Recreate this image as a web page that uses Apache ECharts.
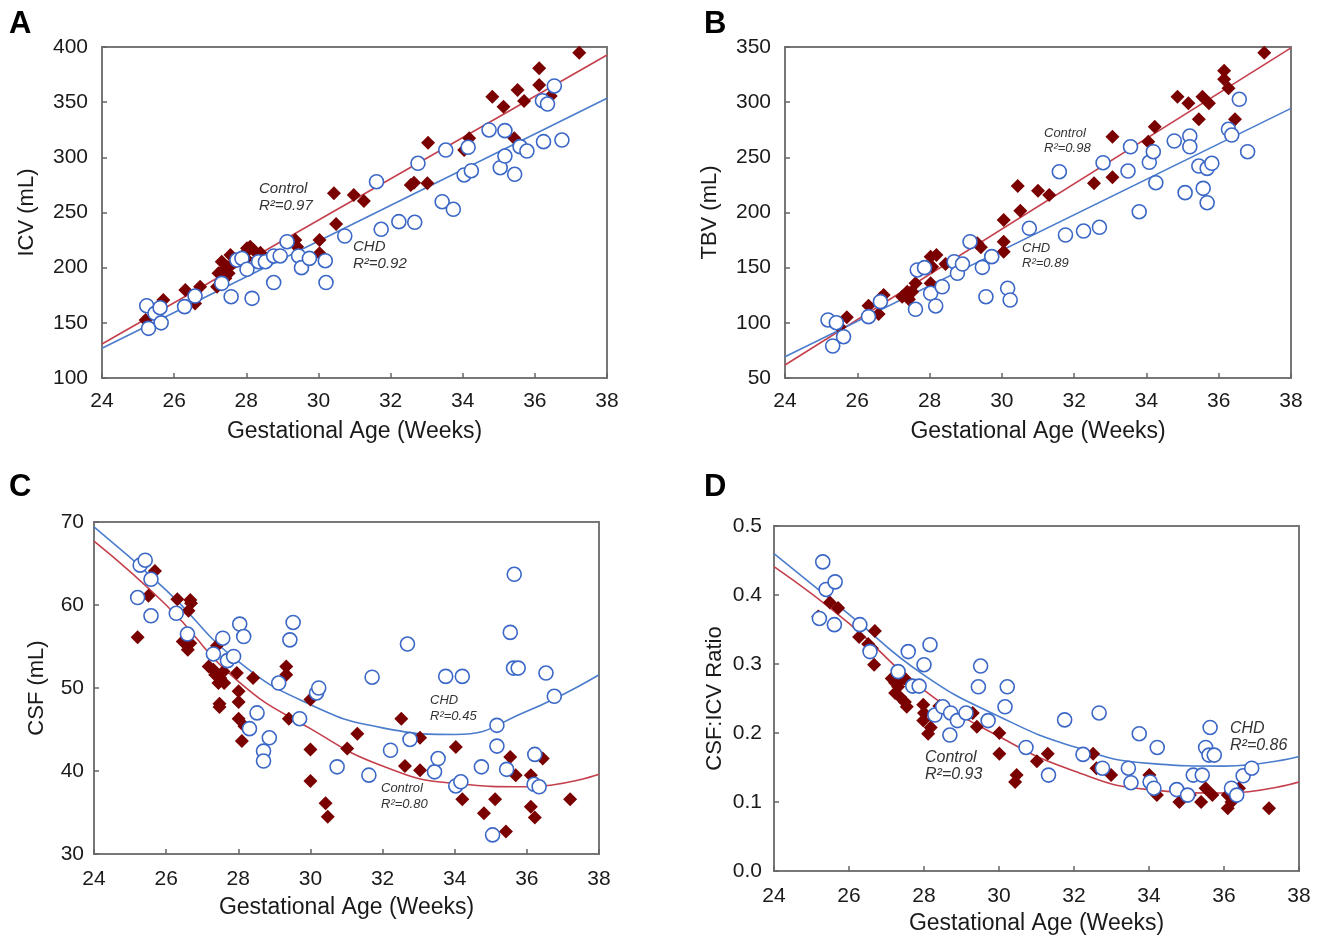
<!DOCTYPE html>
<html><head><meta charset="utf-8">
<script src="https://cdn.jsdelivr.net/npm/echarts@6/dist/echarts.min.js"></script>
<style>html,body{margin:0;padding:0;background:#fff}#c{width:1326px;height:939px}</style>
</head><body><div id="c"></div>
<script>
// ---------- DATA ----------
const weekTicks = [24, 26, 28, 30, 32, 34, 36, 38];

// Panel A: ICV (mL)
const icvCHD = [[25.24,165.5],[25.29,145],[25.47,158.6],[25.61,163.7],[25.64,150],[26.29,164.7],[26.58,174.3],[27.32,185.8],[27.58,173.7],[27.74,206.9],[27.88,208.4],[28.02,198.5],[28.16,172.2],[28.34,205.4],[28.53,205.4],[28.76,210.6],[28.76,186.5],[28.94,210.6],[29.13,223.5],[29.45,210.6],[29.53,200],[29.75,208.4],[30.19,206.3],[30.21,186.5],[30.73,228.7],[31.61,277.9],[31.74,234.8],[32.23,241.7],[32.67,241.1],[32.76,294.6],[33.43,259.8],[33.53,306.6],[33.74,252.9],[34.04,284],[34.15,309.1],[34.24,287.9],[34.73,324.8],[35.04,290.6],[35.17,324.2],[35.17,301.2],[35.44,284.6],[35.59,309.7],[35.78,305.7],[36.24,314.2],[36.21,351.3],[36.35,348.3],[36.54,364.7],[36.75,315.7]];
const icvControl = [[25.21,152.6],[25.7,170.7],[26.31,179.7],[26.58,167.6],[26.72,182.8],[27.19,182.8],[27.23,194.9],[27.32,205.4],[27.37,197.9],[27.46,200.9],[27.56,211.5],[27.51,194.9],[27.42,190.4],[27.6,203],[27.3,188],[28.02,217.5],[28.11,219],[27.97,213],[28.2,216],[28.39,213.5],[28.0,208],[29.36,225],[29.41,219],[30.03,225],[30.03,213],[30.43,267.4],[30.49,239.6],[30.98,265.9],[31.26,260.4],[32.56,274.9],[32.65,277],[33.02,276.5],[33.04,313.3],[34.04,306.6],[34.18,317.2],[34.82,355],[35.13,345.9],[35.43,317.2],[35.52,361],[35.7,351],[36.12,380.7],[36.12,365.6],[36.44,355.6],[37.23,394.8]];
const icvFitControl = [[24,130.8],[38,392.7]];
const icvFitCHD = [[24,127],[38,353.5]];

// Panel B: TBV (mL)
const tbvCHD = [[25.19,102.6],[25.32,79],[25.42,100.1],[25.62,87.4],[26.31,105.6],[26.64,119.2],[27.61,112.3],[27.66,147.9],[27.86,150],[28.03,126.8],[28.17,115.3],[28.35,132.7],[28.68,155.4],[28.77,144.9],[28.91,153.3],[29.12,173.5],[29.46,150.3],[29.56,123.7],[29.72,160],[30.16,131.3],[30.23,120.7],[30.76,185.7],[31.59,237],[31.76,179.6],[32.26,183.2],[32.7,186.6],[32.8,245.1],[33.49,237.6],[33.56,259.6],[33.8,200.7],[34.08,245.5],[34.19,255.1],[34.26,227],[34.77,264.8],[35.07,218],[35.2,269.3],[35.2,259.6],[35.45,242.1],[35.57,221.9],[35.68,240],[35.68,208.9],[35.81,244.6],[36.27,275.4],[36.36,270.2],[36.57,302.6],[36.8,255.1]];
const tbvControl = [[25.51,96.5],[25.71,105],[26.31,115.5],[26.59,108],[26.64,122.2],[26.73,125.2],[27.24,123.7],[27.33,125.2],[27.43,121.3],[27.52,128.2],[27.61,135.8],[27.38,128.2],[28.03,160],[28.07,150.9],[28.19,161.5],[28.03,135.8],[28.44,153.3],[29.32,172.1],[29.42,168.5],[30.05,193.2],[30.05,173.5],[30.05,164.5],[30.44,224],[30.51,201.6],[31,219.8],[31.31,215.9],[32.55,226.5],[33.06,268.7],[33.06,231.9],[34.05,264.2],[34.23,277.8],[34.86,305],[35.16,299],[35.45,284.5],[35.55,305],[35.73,299],[36.15,328.5],[36.15,320.7],[36.27,312.6],[36.45,284.5],[37.26,344.8]];
const tbvFitControl = [[24,61.8],[38,349.2]];
const tbvFitCHD = [[24,69.3],[38,294.4]];

// Panel C: CSF (mL)
const csfCHD = [[25.21,60.9],[25.28,64.8],[25.42,65.4],[25.58,63.1],[25.58,58.7],[26.28,59],[26.59,56.5],[27.31,54.1],[27.57,56],[27.7,53.3],[27.87,53.8],[28.04,57.7],[28.15,56.2],[28.52,47],[28.31,45.1],[28.86,44],[28.7,42.4],[28.7,41.2],[29.12,50.6],[29.43,55.8],[29.52,57.9],[29.7,46.3],[30.17,49.4],[30.23,50],[30.74,40.5],[31.71,51.3],[31.62,39.5],[32.22,42.5],[32.69,55.3],[32.76,43.8],[33.44,39.9],[33.54,41.5],[33.75,51.4],[34.03,38.2],[34.17,38.7],[34.21,51.4],[34.74,40.5],[35.05,32.3],[35.17,45.5],[35.17,43],[35.44,40.2],[35.54,56.7],[35.65,63.7],[35.63,52.4],[35.76,52.4],[36.22,42],[36.2,38.4],[36.34,38.1],[36.53,51.8],[36.76,49]];
const csfControl = [[25.21,56.1],[25.51,61.1],[25.69,64.1],[26.31,60.7],[26.62,59.3],[26.67,60.6],[26.69,60.2],[26.46,55.6],[26.6,54.6],[26.67,55.4],[27.18,52.6],[27.31,52.2],[27.41,55.1],[27.36,51.6],[27.5,51.2],[27.59,52],[27.45,50.6],[27.61,50.6],[27.48,48.1],[27.48,47.7],[28.01,49.6],[28.01,48.3],[27.96,51.8],[28.01,46.3],[28.17,45.4],[28.1,43.6],[28.41,51.2],[29.33,52.6],[29.33,51.6],[29.4,46.3],[30,48.6],[30,42.6],[30,38.8],[30.42,36.1],[30.48,34.5],[31.02,42.7],[31.3,44.5],[32.52,46.3],[32.62,40.6],[33.04,44],[33.04,40.1],[34.03,42.9],[34.21,36.6],[34.81,34.9],[35.12,36.6],[35.42,32.7],[35.54,41.7],[35.69,39.5],[36.11,39.5],[36.11,35.7],[36.22,34.4],[36.44,41.5],[37.2,36.6]];
const csfFitCHD = [[24,69.4],[26,61.8],[28,53.2],[30,48],[32,45.2],[34,44.4],[36,47.2],[38,51.6]];
const csfFitControl = [[24,67.7],[26,60],[28,50.8],[30,45.1],[32,40.6],[34,38.5],[36,38.1],[38,39.6]];

// Panel D: CSF:ICV ratio
const ratioCHD = [[25.3,0.448],[25.39,0.408],[25.63,0.419],[25.21,0.366],[25.61,0.357],[26.29,0.357],[26.56,0.318],[27.31,0.289],[27.58,0.318],[27.7,0.268],[27.87,0.268],[28,0.299],[28.16,0.328],[28.29,0.226],[28.5,0.238],[28.71,0.229],[28.89,0.218],[28.69,0.197],[29.12,0.229],[29.45,0.267],[29.51,0.297],[29.71,0.218],[30.16,0.238],[30.22,0.267],[30.72,0.179],[31.32,0.139],[31.75,0.219],[32.24,0.169],[32.67,0.229],[32.76,0.149],[33.45,0.149],[33.52,0.128],[33.74,0.199],[34.03,0.129],[34.13,0.12],[34.22,0.179],[34.74,0.118],[35.03,0.11],[35.18,0.139],[35.42,0.139],[35.51,0.179],[35.63,0.208],[35.6,0.168],[35.74,0.168],[36.2,0.12],[36.34,0.11],[36.51,0.138],[36.74,0.149]];
const ratioControl = [[25.18,0.369],[25.49,0.389],[25.71,0.381],[26.27,0.339],[26.51,0.329],[26.69,0.348],[26.67,0.299],[26.61,0.323],[27.14,0.279],[27.23,0.273],[27.31,0.267],[27.4,0.277],[27.49,0.279],[27.23,0.258],[27.36,0.252],[27.49,0.245],[27.54,0.238],[27.98,0.241],[28,0.229],[27.98,0.218],[28.18,0.208],[28.11,0.199],[28.41,0.239],[29.3,0.229],[29.41,0.209],[30.01,0.2],[30.01,0.17],[30.47,0.139],[30.43,0.129],[31.01,0.159],[31.3,0.17],[32.51,0.17],[32.6,0.149],[32.99,0.139],[34.01,0.139],[34.21,0.11],[34.81,0.1],[35.09,0.11],[35.39,0.1],[35.51,0.12],[35.69,0.11],[36.1,0.11],[36.1,0.091],[36.2,0.1],[36.4,0.12],[37.2,0.091]];
const ratioFitCHD = [[24,0.46],[26,0.372],[28,0.284],[30,0.224],[32,0.18],[34,0.156],[36,0.152],[38,0.166]];
const ratioFitControl = [[24,0.441],[26,0.359],[28,0.262],[30,0.195],[32,0.145],[34,0.118],[36,0.113],[38,0.129]];

const yTicksA = [100, 150, 200, 250, 300, 350, 400];
const yTicksB = [50, 100, 150, 200, 250, 300, 350];
const yTicksC = [30, 40, 50, 60, 70];
const yTicksD = [0.0, 0.1, 0.2, 0.3, 0.4, 0.5];

// ---------- STYLE ----------
const FONT = '"Liberation Sans", Arial, sans-serif';
const RED_PT = '#7a0000', RED_LN = '#c4404c', BLUE_PT = '#3b67c6', BLUE_LN = '#4b7dcc';
const chart = echarts.init(document.getElementById('c'), null, {renderer: 'canvas'});

const panels = [
  {grid: {left: 102, top: 47, width: 505, height: 331}, yt: yTicksA, yName: 'ICV (mL)', yGap: 64, yLM: 14, xGap: 42, xLM: 13,
   chd: icvCHD, ctl: icvControl, fc: icvFitCHD, fr: icvFitControl, smooth: false, dec: 0},
  {grid: {left: 785, top: 47, width: 506, height: 331}, yt: yTicksB, yName: 'TBV (mL)', yGap: 64, yLM: 14, xGap: 42, xLM: 13,
   chd: tbvCHD, ctl: tbvControl, fc: tbvFitCHD, fr: tbvFitControl, smooth: false, dec: 0},
  {grid: {left: 94, top: 522, width: 505, height: 332}, yt: yTicksC, yName: 'CSF (mL)', yGap: 46, yLM: 10, xGap: 42, xLM: 15,
   chd: csfCHD, ctl: csfControl, fc: csfFitCHD, fr: csfFitControl, smooth: true, dec: 0},
  {grid: {left: 774, top: 526, width: 525, height: 345}, yt: yTicksD, yName: 'CSF:ICV Ratio', yGap: 48, yLM: 12, xGap: 41, xLM: 15,
   chd: ratioCHD, ctl: ratioControl, fc: ratioFitCHD, fr: ratioFitControl, smooth: true, dec: 1}
];

const grids = [], xAxes = [], yAxes = [], series = [];
panels.forEach((p, i) => {
  grids.push(Object.assign({show: true, borderColor: '#777', borderWidth: 2, backgroundColor: '#fff'}, p.grid));
  xAxes.push({type: 'value', gridIndex: i, min: weekTicks[0], max: weekTicks[weekTicks.length - 1],
    interval: weekTicks[1] - weekTicks[0],
    name: 'Gestational Age (Weeks)', nameLocation: 'middle', nameGap: p.xGap,
    nameTextStyle: {fontFamily: FONT, fontSize: 23, color: '#1a1a1a'},
    axisLine: {show: false}, splitLine: {show: false},
    axisTick: {show: true, inside: true, length: 5, lineStyle: {color: '#666', width: 1.5}},
    axisLabel: {fontFamily: FONT, fontSize: 21, color: '#1a1a1a', margin: p.xLM}});
  yAxes.push({type: 'value', gridIndex: i, min: p.yt[0], max: p.yt[p.yt.length - 1],
    interval: +(p.yt[1] - p.yt[0]).toFixed(3),
    name: p.yName, nameLocation: 'middle', nameGap: p.yGap, nameRotate: 90,
    nameTextStyle: {fontFamily: FONT, fontSize: 22, color: '#1a1a1a'},
    axisLine: {show: false}, splitLine: {show: false},
    axisTick: {show: true, inside: true, length: 5, lineStyle: {color: '#666', width: 1.5}},
    axisLabel: {fontFamily: FONT, fontSize: 21, color: '#1a1a1a', margin: p.yLM,
      formatter: v => v.toFixed(p.dec)}});
  series.push({type: 'line', xAxisIndex: i, yAxisIndex: i, data: p.fr, smooth: p.smooth, showSymbol: false,
    lineStyle: {color: RED_LN, width: 1.6}, z: 1, silent: true});
  series.push({type: 'line', xAxisIndex: i, yAxisIndex: i, data: p.fc, smooth: p.smooth, showSymbol: false,
    lineStyle: {color: BLUE_LN, width: 1.6}, z: 1, silent: true});
  series.push({type: 'scatter', xAxisIndex: i, yAxisIndex: i, data: p.ctl, symbol: 'diamond', symbolSize: 14,
    itemStyle: {color: RED_PT, opacity: 1}, z: 2});
  series.push({type: 'scatter', xAxisIndex: i, yAxisIndex: i, data: p.chd, symbol: 'circle', symbolSize: 14,
    itemStyle: {color: '#fff', borderColor: BLUE_PT, borderWidth: 1.6, opacity: 1}, z: 3});
});

function txt(x, y, s, size, opts) {
  return Object.assign({type: 'text', left: x, top: y, z: 10,
    style: {text: s, fontFamily: FONT, fontSize: size, fontStyle: 'italic', fill: '#333'}}, opts || {});
}
function letter(x, y, s) {
  return {type: 'text', left: x, top: y, z: 10,
    style: {text: s, fontFamily: FONT, fontSize: 31, fontWeight: 'bold', fill: '#000'}};
}

const graphic = [
  letter(9, 9, 'A'), letter(704, 9, 'B'), letter(9, 472, 'C'), letter(704, 472, 'D'),
  txt(259, 181, 'Control', 15), txt(259, 198, 'R²=0.97', 15),
  txt(353, 239, 'CHD', 15), txt(353, 256, 'R²=0.92', 15),
  txt(1044, 127, 'Control', 13), txt(1044, 142, 'R²=0.98', 13),
  txt(1022, 242, 'CHD', 13), txt(1022, 257, 'R²=0.89', 13),
  txt(430, 694, 'CHD', 13), txt(430, 710, 'R²=0.45', 13),
  txt(381, 782, 'Control', 13), txt(381, 798, 'R²=0.80', 13),
  txt(925, 750, 'Control', 16), txt(925, 767, 'R²=0.93', 16),
  txt(1230, 721, 'CHD', 16), txt(1230, 738, 'R²=0.86', 16)
];

chart.setOption({animation: false, backgroundColor: '#fff', grid: grids, xAxis: xAxes, yAxis: yAxes, series, graphic});
</script></body></html>
